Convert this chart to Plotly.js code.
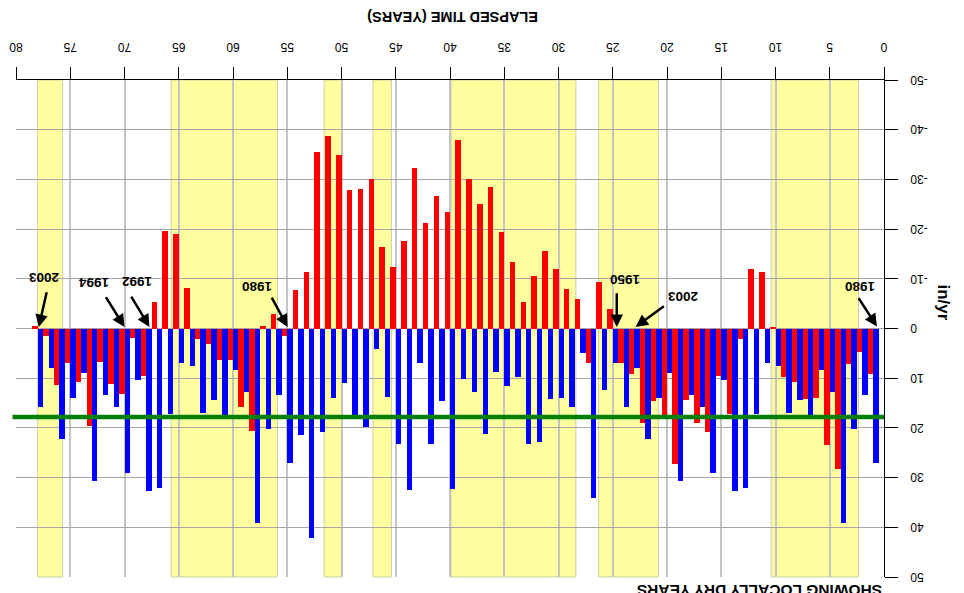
<!DOCTYPE html>
<html>
<head>
<meta charset="utf-8">
<script src="https://cdn.plot.ly/plotly-3.0.1.min.js"></script>
<style>
  html, body { margin: 0; padding: 0; background: #ffffff; overflow: hidden; }
  #chart { width: 964px; height: 593px; transform: rotate(180deg); transform-origin: 50% 50%; }
</style>
</head>
<body>
<div id="chart"></div>
<script>
// ---- data ----
const years = [1,2,3,4,5,6,7,8,9,10,11,12,13,14,15,16,17,18,19,20,
  21,22,23,24,25,26,27,28,29,30,31,32,33,34,35,36,37,38,39,40,
  41,42,43,44,45,46,47,48,49,50,51,52,53,54,55,56,57,58,59,60,
  61,62,63,64,65,66,67,68,69,70,71,72,73,74,75,76,77,78];

const blueValues = [27.0,13.4,20.2,39.1,12.8,8.3,18.0,14.4,17.0,7.6,
  6.9,17.2,32.1,32.7,10.4,29.1,15.8,13.4,30.7,8.9,
  14.0,22.2,7.9,15.8,6.9,12.3,34.1,4.9,15.8,14.0,
  14.2,22.8,23.2,9.7,11.5,8.7,21.2,12.8,10.1,32.3,
  14.6,23.2,6.9,32.5,23.2,13.8,4.1,19.8,18.0,10.9,
  14.0,20.8,42.1,21.4,27.0,13.4,20.2,39.1,12.8,8.3,
  18.0,14.4,17.0,7.6,6.9,17.2,32.1,32.7,10.4,29.1,
  15.8,13.4,30.7,8.9,14.0,22.2,7.9,15.8];

const redValues = [9.2,4.7,7.2,28.3,23.4,14.0,14.2,10.7,9.7,-0.4,
  -11.3,-11.9,2.2,17.2,9.6,20.8,19.0,14.4,27.2,18.3,
  14.6,19.0,9.2,6.9,-3.9,-9.3,6.9,-5.9,-7.9,-11.9,
  -15.6,-10.5,-5.3,-13.4,-19.4,-28.5,-25.0,-30.1,-37.9,-23.4,
  -26.6,-21.2,-32.3,-17.6,-12.3,-16.4,-30.1,-28.1,-27.9,-34.9,
  -38.7,-35.5,-11.3,-7.7,1.5,-2.9,-0.5,20.6,15.8,6.3,
  6.3,3.1,2.1,-8.1,-19.0,-19.6,-5.3,9.6,1.9,13.2,
  11.2,6.7,19.6,10.7,6.9,11.4,1.5,-0.5];

const xTickVals = [0,5,10,15,20,25,30,35,40,45,50,55,60,65,70,75,80];
const yTickVals = [-50,-40,-30,-20,-10,0,10,20,30,40,50];
const yTickText = ['-50','-40','-30','-20','-10','0','10','20','30','40','50'];

// shaded dry periods (elapsed years)
const dryStart = [2.35, 20.8, 28.4, 45.4, 50.0, 55.9, 75.7];
const dryEnd   = [10.4, 26.3, 39.9, 47.1, 51.6, 65.7, 78.0];

const thresholdValue = 17.8;

// year callouts
const calloutText  = ['1980','1950','2003','1980','1992','1994','2003'];
const calloutTipX  = [0.65, 24.63, 22.9, 54.97, 67.7, 70.0, 77.9];
const calloutTipY  = [-0.4, -0.3, -0.3, -0.3, -0.3, -0.3, -0.3];
const calloutTailX = [2.43, 24.63, 20.15, 56.5, 69.46, 71.8, 77.14];
const calloutTailY = [-6.4, -7.4, -4.7, -6.5, -6.7, -6.6, -7.6];
const calloutTextX = [2.2, 23.85, 18.6, 57.8, 68.85, 72.9, 77.45];
const calloutTextY = [-8.5, -9.8, -6.5, -8.4, -9.5, -9.2, -10.2];

// ---- traces ----
const traces = [
  { type: 'bar', x: years, y: blueValues, marker: { color: '#0000ff', line: { width: 0 } }, name: 'blue', hoverinfo: 'skip' },
  { type: 'bar', x: years, y: redValues, marker: { color: '#ff0000', line: { width: 0 } }, name: 'red', hoverinfo: 'skip' }
];

const shapes = [];
for (let i = 0; i < dryStart.length; i++) {
  shapes.push({ type: 'rect', layer: 'below', xref: 'x', yref: 'paper',
    x0: dryStart[i], x1: dryEnd[i], y0: 0, y1: 1,
    fillcolor: '#ffffa0', line: { color: '#cfcfa6', width: 1 } });
}
shapes.push({ type: 'line', layer: 'above', xref: 'paper', yref: 'y',
  x0: 0, x1: 1.004, y0: thresholdValue, y1: thresholdValue,
  line: { color: '#058005', width: 4.5 } });

const FONT = 'Liberation Sans, Arial, sans-serif';
const annotations = [];
for (let i = 0; i < calloutText.length; i++) {
  annotations.push({ xref: 'x', yref: 'y', x: calloutTipX[i], y: calloutTipY[i],
    axref: 'x', ayref: 'y', ax: calloutTailX[i], ay: calloutTailY[i],
    text: '', showarrow: true, arrowhead: 2, arrowsize: 1, arrowwidth: 2.5,
    arrowcolor: '#000000', standoff: 0, startstandoff: 0 });
  annotations.push({ xref: 'x', yref: 'y', x: calloutTextX[i], y: calloutTextY[i],
    text: '<b>' + calloutText[i] + '</b>', showarrow: false,
    xanchor: 'center', yanchor: 'middle',
    font: { family: FONT, size: 13.5, color: '#000000' } });
}
annotations.push({ xref: 'paper', yref: 'paper', x: 0.497, y: -0.127,
  text: '<b>ELAPSED TIME (YEARS)</b>', showarrow: false, xanchor: 'center', yanchor: 'middle',
  font: { family: FONT, size: 14.5, color: '#000000' } });
annotations.push({ xref: 'paper', yref: 'paper', x: -0.0683, y: 0.447,
  text: '<b>in/yr</b>', showarrow: false, xanchor: 'center', yanchor: 'middle', textangle: -90,
  font: { family: FONT, size: 17, color: '#000000' } });
annotations.push({ xref: 'paper', yref: 'paper', x: 0, y: 1.006,
  text: '<b>SHOWING LOCALLY DRY YEARS</b>', showarrow: false, xanchor: 'left', yanchor: 'bottom',
  font: { family: FONT, size: 15.5, color: '#000000' } });

const layout = {
  width: 964, height: 593,
  margin: { l: 80, r: 16, t: 16, b: 80, pad: 0 },
  paper_bgcolor: '#ffffff', plot_bgcolor: '#ffffff',
  showlegend: false,
  barmode: 'group', bargap: 0, bargroupgap: 0,
  font: { family: FONT, size: 12, color: '#000000' },
  xaxis: {
    range: [0, 80], tickvals: xTickVals, ticks: 'outside', ticklen: 12, tickcolor: '#000000',
    showline: true, linecolor: '#000000', linewidth: 1,
    showgrid: true, gridcolor: '#c4c4c4', gridwidth: 2, zeroline: false,
    ticklabelstandoff: 10, tickfont: { family: FONT, size: 12, color: '#000000' }
  },
  yaxis: {
    range: [-50, 50], tickvals: yTickVals, ticktext: yTickText, ticks: 'outside', ticklen: 13, tickcolor: '#000000',
    showline: true, linecolor: '#000000', linewidth: 1,
    showgrid: true, gridcolor: '#a6a6a6', gridwidth: 1, zeroline: false,
    ticklabelstandoff: 10, tickfont: { family: FONT, size: 12, color: '#000000' }
  },
  shapes: shapes,
  annotations: annotations
};

Plotly.newPlot('chart', traces, layout, { displayModeBar: false, staticPlot: true });
</script>
</body>
</html>
